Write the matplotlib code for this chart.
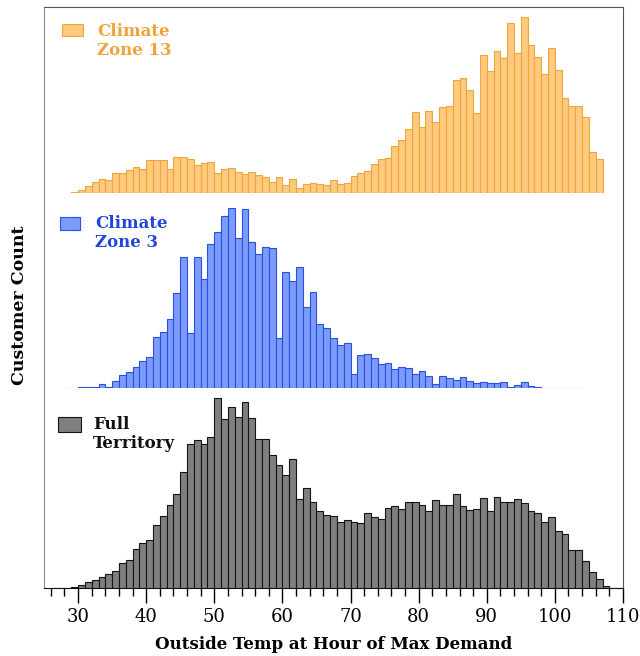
import matplotlib
matplotlib.use("Agg")
import matplotlib.pyplot as plt
import numpy as np
from matplotlib.patches import Rectangle
from matplotlib.ticker import MultipleLocator

# temperature bins are 1 degree wide; counts (arbitrary units)
zone13_start = 29
zone13_counts = [1, 2.7, 7, 11, 14, 13, 20.5, 19.7, 23.5, 26.5, 24, 33, 33, 33, 24, 35.6,
                 36.4, 34, 28.4, 30, 31, 20.5, 24.5, 25.5, 21.5, 19.3, 20.7, 18, 16, 11,
                 16, 8, 14, 5.5, 9.3, 10.5, 9.3, 8, 13, 9, 10, 17.3, 20, 22, 28.7, 33.7,
                 35.3, 47, 52.7, 64, 81.3, 65.7, 82.3, 70.7, 85.7, 87, 113, 115, 103, 80,
                 138, 122, 142, 135, 170, 140, 176, 148, 136, 119, 144.7, 123, 95.5,
                 86.7, 87.5, 75.8, 41.3, 34]

zone3_start = 28
zone3_counts = [0, 0, 0.5, 0.7, 0.5, 4, 1.3, 6.7, 12.7, 16, 21.3, 27, 30.7, 50.5, 56, 68.7,
                94.7, 131.3, 55, 131.3, 109, 144, 156.5, 172.5, 180, 150, 179, 146, 134,
                141.5, 140, 49.5, 116, 107, 121, 81, 96, 64, 60, 50.3, 43, 45, 14.3, 33.3,
                34.3, 30.3, 23.7, 25, 18.7, 21.3, 19.7, 13.7, 17.3, 12.2, 3.7, 11.7, 9.7,
                8, 10.7, 7.3, 5, 5.5, 5, 5.3, 6, 1, 3.3, 5.7, 2.3, 1, 0.3, 0, 0, 0, 0, 0]

full_start = 26
full_counts = [0, 0, 0, 1.3, 3.3, 6, 8.3, 11, 14, 17.3, 25, 28, 39.3, 45, 48.3, 63.3, 72,
               82.7, 94.3, 115.7, 143.7, 147.7, 144.3, 150.7, 190, 169, 180.7, 171, 185.7,
               170.3, 149.3, 149.3, 133, 122.7, 113.3, 128.7, 89.3, 100.3, 86, 76.7, 73.3,
               71.5, 66, 68, 66, 65, 75.3, 70.7, 69, 80, 82.3, 79, 86, 86, 83.3, 76.7, 88.3,
               83.3, 83.3, 94, 81.7, 78.3, 79.3, 90.3, 77.3, 91.3, 86, 86, 89.3, 85.3,
               77.3, 75, 66.3, 71, 56.7, 53.7, 38, 38, 27.3, 15.7, 9, 1.7, 0, 0]

panels = [
    ("Climate\nZone 13", zone13_start, zone13_counts, "#FDCA7E", "#F0A53C", "#F0A33A"),
    ("Climate\nZone 3", zone3_start, zone3_counts, "#7B9CFB", "#2B50E0", "#2346DA"),
    ("Full\nTerritory", full_start, full_counts, "#7F7F7F", "#141414", "#111111"),
]

plt.rcParams["font.family"] = "serif"
plt.rcParams["font.serif"] = ["DejaVu Serif"]

fig = plt.figure(figsize=(6.4, 6.56), dpi=100)
left, right, top, bottom = 0.0688, 0.9734, 0.9893, 0.1037

frame = fig.add_axes([left, bottom, right - left, top - bottom])
frame.set_xlim(25, 110)
frame.set_yticks([])
frame.xaxis.set_major_locator(MultipleLocator(10))
frame.xaxis.set_minor_locator(MultipleLocator(2))
frame.tick_params(axis="x", which="major", direction="out", length=11, width=1, labelsize=13)
frame.tick_params(axis="x", which="minor", direction="out", length=6, width=1)
frame.set_xticks(np.arange(30, 111, 10))
for side, color in [("left", "#8c8c8c"), ("top", "#555555"), ("right", "#555555"), ("bottom", "#111111")]:
    frame.spines[side].set_color(color)
frame.set_xlabel("Outside Temp at Hour of Max Demand", fontsize=12, fontweight="bold", labelpad=7)

grid = fig.add_gridspec(3, 1, left=left, right=right, top=top, bottom=bottom,
                        hspace=0, height_ratios=[186, 195, 200])
patch_boxes = [(0.031, 0.844, 0.036, 0.065, 0.0915, 0.915),
               (0.0276, 0.810, 0.035, 0.068, 0.088, 0.888),
               (0.0247, 0.780, 0.039, 0.075, 0.085, 0.858)]

for row, (label, start, counts, face, edge, text_color) in enumerate(panels):
    axis = fig.add_subplot(grid[row])
    bins = np.arange(start, start + len(counts))
    axis.bar(bins, counts, width=1, align="edge", color=face, edgecolor=edge, linewidth=0.8)
    axis.set_xlim(25, 110)
    axis.set_ylim(0, [186, 195, 200][row])
    axis.axis("off")
    px, py, pw, ph, tx, ty = patch_boxes[row]
    axis.add_patch(Rectangle((px, py), pw, ph, transform=axis.transAxes,
                             facecolor=face, edgecolor=edge, linewidth=0.8, clip_on=False))
    axis.text(tx, ty, label, transform=axis.transAxes, ha="left", va="top",
              color=text_color, fontsize=12, fontweight="bold", linespacing=1.15)

fig.text(0.031, 0.535, "Customer Count", rotation=90, ha="center", va="center",
         fontsize=12.5, fontweight="bold")

fig.savefig("out.png", dpi=100)
